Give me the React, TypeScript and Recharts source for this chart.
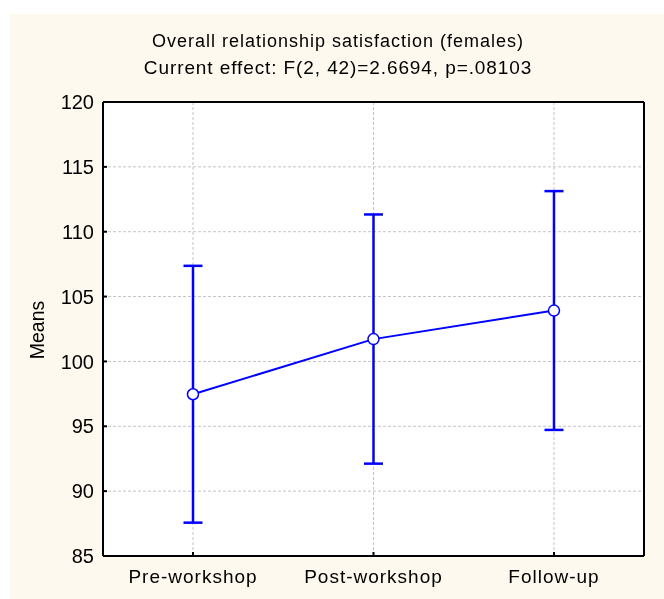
import React from "react";
import { LineChart, Line, XAxis, YAxis, CartesianGrid, ErrorBar } from "recharts";

const categories = ["Pre-workshop", "Post-workshop", "Follow-up"];
const means = [97.47, 101.72, 103.92];
const lowerBounds = [87.57, 92.12, 94.72];
const upperBounds = [107.37, 111.33, 113.13];
const yTicks = [85, 90, 95, 100, 105, 110, 115, 120];

const BLUE = "#0000ff";
const FONT = '"Liberation Sans", Arial, sans-serif';
const CREAM = "#fdf9ee";
const X_PAD = { left: 90, right: 90 };

const data = categories.map((label, i) => ({
  label,
  mean: means[i],
  err: [means[i] - lowerBounds[i], upperBounds[i] - means[i]],
}));

export default function App() {
  return (
    <div style={{ position: "fixed", left: 0, top: 0, width: 664, height: 599, background: "#fff", fontFamily: FONT }}>
      <div style={{ position: "absolute", left: 10, top: 14, width: 654, height: 585, background: CREAM }}>
        <div
          style={{
            position: "absolute",
            left: 0,
            width: 656,
            top: 17,
            textAlign: "center",
            fontSize: 18,
            letterSpacing: 1,
            color: "#000",
            whiteSpace: "nowrap",
          }}
        >
          Overall relationship satisfaction (females)
        </div>
        <div
          style={{
            position: "absolute",
            left: 0,
            width: 656,
            top: 43,
            textAlign: "center",
            fontSize: 19,
            letterSpacing: 0.9,
            color: "#000",
            whiteSpace: "nowrap",
          }}
        >
          Current effect: F(2, 42)=2.6694, p=.08103
        </div>
        <div
          style={{
            position: "absolute",
            left: 27,
            top: 316,
            transform: "translate(-50%, -50%) rotate(-90deg)",
            fontSize: 19.5,
            color: "#000",
          }}
        >
          Means
        </div>
        <LineChart
          width={654}
          height={585}
          data={data}
          margin={{ top: 87, right: 19, bottom: 13, left: 33 }}
        >
          <CartesianGrid fill="#fff" stroke="#c4c4c4" strokeDasharray="3 2" />
          <XAxis
            dataKey="label"
            height={30}
            padding={X_PAD}
            stroke="#000"
            strokeWidth={2}
            tickSize={-4}
            tickMargin={17.5}
            tick={{ fill: "#000", fontSize: 19, letterSpacing: 1, fontFamily: FONT }}
          />
          {/* frame: top edge with inward ticks */}
          <XAxis
            xAxisId="top"
            dataKey="label"
            orientation="top"
            height={1}
            padding={X_PAD}
            stroke="#000"
            strokeWidth={2}
            tickSize={-4}
            tick={false}
          />
          <YAxis
            domain={[85, 120]}
            ticks={yTicks}
            width={60}
            stroke="#000"
            strokeWidth={2}
            tickSize={-4}
            tickMargin={13}
            tick={{ fill: "#000", fontSize: 20, fontFamily: FONT }}
            allowDataOverflow
          />
          {/* frame: right edge with inward ticks */}
          <YAxis
            yAxisId="right"
            orientation="right"
            domain={[85, 120]}
            ticks={yTicks}
            width={1}
            stroke="#000"
            strokeWidth={2}
            tickSize={-4}
            tick={false}
            allowDataOverflow
          />
          <Line
            type="linear"
            dataKey="mean"
            stroke={BLUE}
            strokeWidth={2}
            dot={{ r: 5.5, fill: "#fff", stroke: BLUE, strokeWidth: 1.5 }}
            isAnimationActive={false}
          >
            <ErrorBar dataKey="err" width={9.5} stroke={BLUE} strokeWidth={2.5} direction="y" />
          </Line>
        </LineChart>
      </div>
    </div>
  );
}
